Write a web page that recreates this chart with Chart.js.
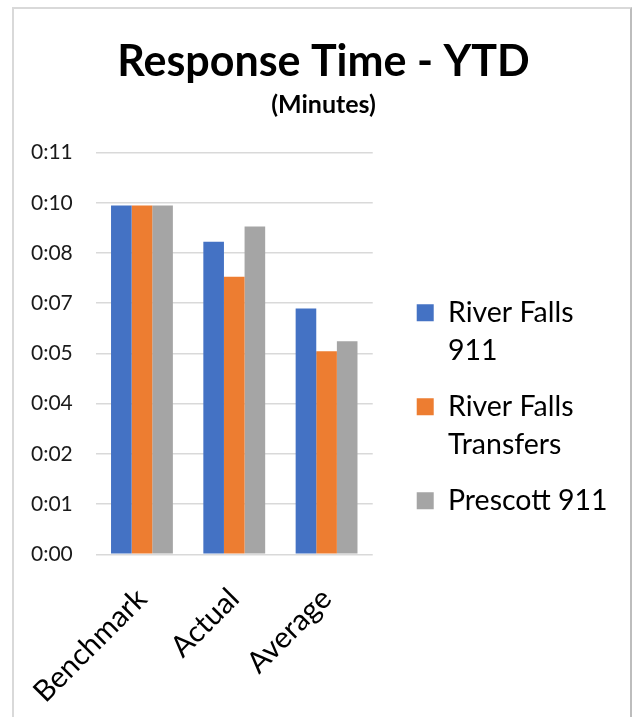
<!DOCTYPE html>
<html><head><meta charset="utf-8">
<script src="https://cdn.jsdelivr.net/npm/chart.js@4.4.0/dist/chart.umd.min.js"></script>
<style>
html,body{margin:0;padding:0;background:#fff;}
#wrap{position:absolute;left:0;top:0;width:636px;height:717px;}
#frame{position:absolute;left:12px;top:7px;width:620px;height:730px;border-left:2px solid #d9d9d9;border-top:2px solid #d9d9d9;border-right:2px solid #bdbdbd;box-sizing:border-box;pointer-events:none;}
</style></head><body>
<div id="wrap"><canvas id="c" width="636" height="717"></canvas></div>
<div id="frame"></div>
<script>
const categories = ['Benchmark', 'Actual', 'Average'];
const seriesNames = [['River Falls', '911'], ['River Falls', 'Transfers'], ['Prescott 911']];
const riverFalls911 = [10.0, 8.96, 7.05];
const riverFallsTransfers = [10.0, 7.96, 5.82];
const prescott911 = [10.0, 9.40, 6.11];
const tickValues = [0, 1.44, 2.88, 4.32, 5.76, 7.2, 8.64, 10.08, 11.52];
const tickLabels = ['0:00', '0:01', '0:02', '0:04', '0:05', '0:07', '0:08', '0:10', '0:11'];
const colors = ['#4472C4', '#ED7D31', '#A5A5A5'];

const FONT = 'Lato';
const seriesValues = [riverFalls911, riverFallsTransfers, prescott911];

const chart = new Chart(document.getElementById('c'), {
  type: 'bar',
  data: {
    labels: categories,
    datasets: seriesValues.map((vals, i) => ({
      label: seriesNames[i],
      data: vals,
      backgroundColor: colors[i],
      borderWidth: 0,
      categoryPercentage: 0.67,
      barPercentage: 1.0
    }))
  },
  options: {
    responsive: false,
    animation: false,
    layout: { padding: { left: 29.4, right: 18.4, top: 36, bottom: 0 } },
    plugins: {
      title: { display: true, text: 'Response Time - YTD', color: '#000',
        font: { family: FONT, size: 43, weight: 'bold', lineHeight: 1.2 }, padding: { top: 0, bottom: 2 } },
      subtitle: { display: true, text: '(Minutes)', color: '#000',
        font: { family: FONT, size: 25, weight: 'bold', lineHeight: 1.2 }, padding: { top: 0, bottom: 33 } },
      legend: {
        position: 'right',
        maxWidth: 280,
        title: { display: true, text: '', padding: { top: 69, bottom: 0 }, font: { size: 1, lineHeight: 1 } },
        labels: { color: '#000', font: { family: FONT, size: 28.5, lineHeight: 1.333 },
          boxWidth: 17, boxHeight: 17, padding: 18 }
      },
      tooltip: { enabled: false }
    },
    scales: {
      x: {
        grid: { display: false }, border: { display: false },
        afterFit: (s) => { s.paddingLeft = 0; s.paddingRight = 0; s.height = 162.7; },
        ticks: { color: '#000', font: { family: FONT, size: 29.5 }, minRotation: 45, maxRotation: 45, padding: 19 }
      },
      y: {
        min: 0, max: 11.52,
        afterBuildTicks: (axis) => { axis.ticks = tickValues.map(v => ({ value: v })); },
        afterFit: (s) => { s.width = 66.4; },
        grid: { color: '#d9d9d9', lineWidth: 1.5, drawTicks: false },
        border: { display: false },
        ticks: { color: '#1a1a1a', font: { family: FONT, size: 21 }, padding: 23,
          callback: (v, i) => tickLabels[i] }
      },
      gap: {
        type: 'linear', position: 'right', display: true,
        grid: { display: false }, border: { display: false }, ticks: { display: false },
        afterFit: (s) => { s.width = 26; }
      }
    }
  }
});
</script>
</body></html>
